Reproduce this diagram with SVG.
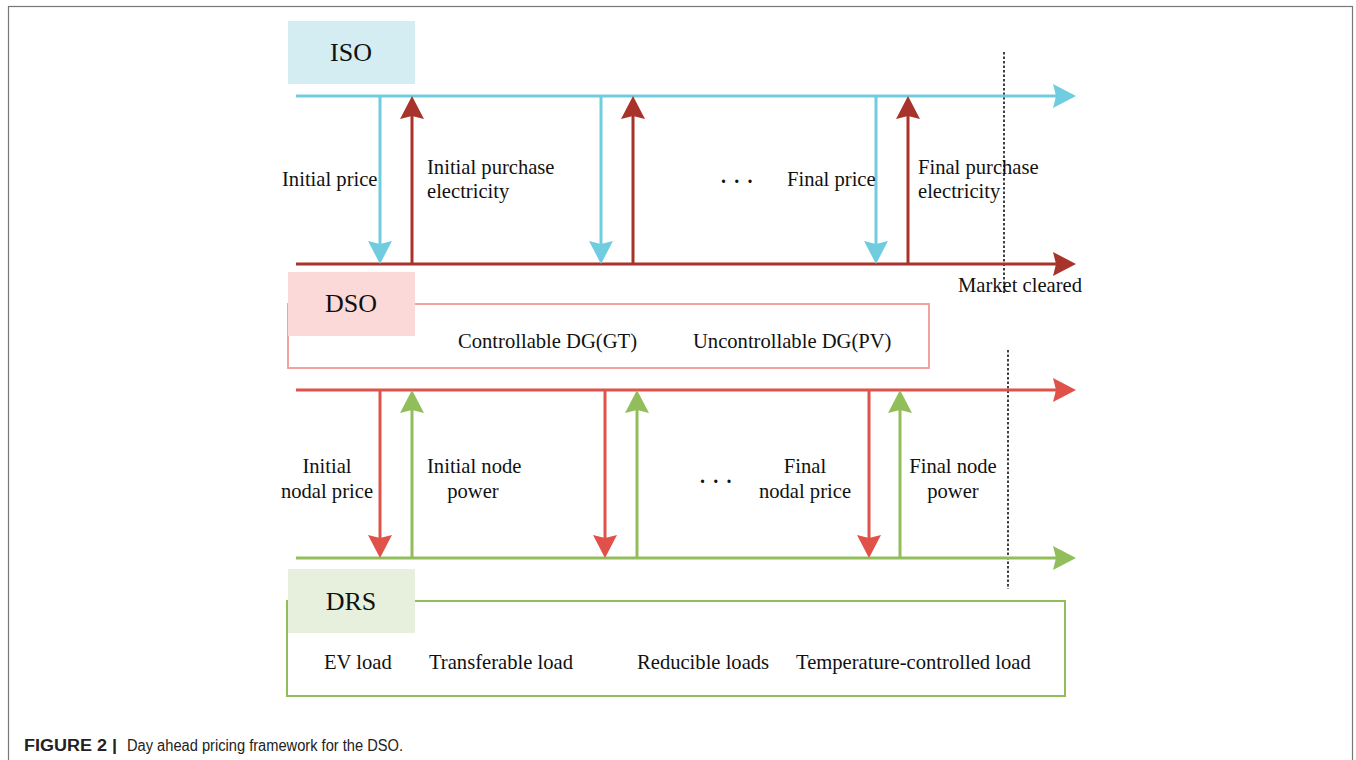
<svg xmlns="http://www.w3.org/2000/svg" width="1356" height="760" viewBox="0 0 1356 760">
<style>
.t{font-family:"Liberation Serif","Times New Roman",serif;font-size:20.6px;fill:#111}
.big{font-family:"Liberation Serif","Times New Roman",serif;font-size:26px;fill:#111}
.c{text-anchor:middle}
.ln{fill:none;stroke-width:3}
.cy{stroke:#70cddf}.dr{stroke:#a8332b}.rd{stroke:#e0514a}.gr{stroke:#91be5b}
.dot{stroke:#111;stroke-width:1.6;stroke-dasharray:2.5 2;fill:none}
.dots{font-family:"Liberation Serif","Times New Roman",serif;font-size:20px;font-weight:bold;fill:#111}
.cap{font-family:"Liberation Sans",Arial,sans-serif;font-size:16px;fill:#222}
</style>
<defs>
<marker id="aCy" markerUnits="userSpaceOnUse" markerWidth="24" markerHeight="24" refX="13" refY="12" orient="auto" viewBox="0 0 24 24"><path d="M0,0 L23,12 L0,24 L3,12 Z" fill="#70cddf"/></marker>
<marker id="aDr" markerUnits="userSpaceOnUse" markerWidth="24" markerHeight="24" refX="13" refY="12" orient="auto" viewBox="0 0 24 24"><path d="M0,0 L23,12 L0,24 L3,12 Z" fill="#a8332b"/></marker>
<marker id="aRd" markerUnits="userSpaceOnUse" markerWidth="24" markerHeight="24" refX="13" refY="12" orient="auto" viewBox="0 0 24 24"><path d="M0,0 L23,12 L0,24 L3,12 Z" fill="#e0514a"/></marker>
<marker id="aGr" markerUnits="userSpaceOnUse" markerWidth="24" markerHeight="24" refX="13" refY="12" orient="auto" viewBox="0 0 24 24"><path d="M0,0 L23,12 L0,24 L3,12 Z" fill="#91be5b"/></marker>
</defs>
<rect x="0" y="0" width="1356" height="760" fill="#fff"/>
<rect x="8.5" y="6.5" width="1344" height="800" fill="none" stroke="#777" stroke-width="1.2"/>

<g id="DSO-outline"><rect x="288" y="304" width="641" height="64" fill="#fff" stroke="#f1a39f" stroke-width="2"/></g>
<g id="DRS-outline"><rect x="287" y="601" width="778" height="95" fill="#fff" stroke="#91be5b" stroke-width="2"/></g>

<g id="ISO"><rect x="288" y="21" width="127" height="63" fill="#d3edf2"/><text class="big c" x="351" y="61">ISO</text></g>
<g id="DSO"><rect x="288" y="272" width="127" height="64" fill="#fbd9d8"/><text class="big c" x="351" y="312">DSO</text></g>
<g id="DRS"><rect x="288" y="569" width="127" height="64" fill="#e6f0dd"/><text class="big c" x="351" y="610">DRS</text></g>

<g id="connectors">
<line class="dot" x1="1004" y1="52" x2="1004" y2="294"/>
<line class="dot" x1="1008" y1="350" x2="1008" y2="589"/>
<line class="ln cy" x1="296" y1="96" x2="1066" y2="96" marker-end="url(#aCy)"/>
<line class="ln dr" x1="296" y1="264" x2="1066" y2="264" marker-end="url(#aDr)"/>
<line class="ln cy" x1="380" y1="96" x2="380" y2="254" marker-end="url(#aCy)"/>
<line class="ln cy" x1="601" y1="96" x2="601" y2="254" marker-end="url(#aCy)"/>
<line class="ln cy" x1="876" y1="96" x2="876" y2="254" marker-end="url(#aCy)"/>
<line class="ln dr" x1="412" y1="264" x2="412" y2="106" marker-end="url(#aDr)"/>
<line class="ln dr" x1="633" y1="264" x2="633" y2="106" marker-end="url(#aDr)"/>
<line class="ln dr" x1="908" y1="264" x2="908" y2="106" marker-end="url(#aDr)"/>
<line class="ln rd" x1="296" y1="390" x2="1066" y2="390" marker-end="url(#aRd)"/>
<line class="ln gr" x1="296" y1="558" x2="1066" y2="558" marker-end="url(#aGr)"/>
<line class="ln rd" x1="380" y1="390" x2="380" y2="548" marker-end="url(#aRd)"/>
<line class="ln rd" x1="605" y1="390" x2="605" y2="548" marker-end="url(#aRd)"/>
<line class="ln rd" x1="869" y1="390" x2="869" y2="548" marker-end="url(#aRd)"/>
<line class="ln gr" x1="412" y1="558" x2="412" y2="400" marker-end="url(#aGr)"/>
<line class="ln gr" x1="637" y1="558" x2="637" y2="400" marker-end="url(#aGr)"/>
<line class="ln gr" x1="900" y1="558" x2="900" y2="400" marker-end="url(#aGr)"/>
</g>

<g id="labels">
<text class="t" x="282" y="186">Initial price</text>
<text class="t" x="427" y="174">Initial purchase</text>
<text class="t" x="427" y="198">electricity</text>
<text class="dots" x="721" y="183" style="letter-spacing:1.6px">. . .</text>
<text class="t" x="787" y="186">Final price</text>
<text class="t" x="918" y="174">Final purchase</text>
<text class="t" x="918" y="198">electricity</text>
<text class="t" x="958" y="292">Market cleared</text>
<text class="t" x="458" y="348">Controllable DG(GT)</text>
<text class="t" x="693" y="348">Uncontrollable DG(PV)</text>
<text class="t c" x="327" y="473">Initial</text>
<text class="t c" x="327" y="498">nodal price</text>
<text class="t" x="427" y="473">Initial node</text>
<text class="t c" x="473" y="498">power</text>
<text class="dots" x="700" y="483" style="letter-spacing:1.6px">. . .</text>
<text class="t c" x="805" y="473">Final</text>
<text class="t c" x="805" y="498">nodal price</text>
<text class="t c" x="953" y="473">Final node</text>
<text class="t c" x="953" y="498">power</text>
<text class="t" x="324" y="669">EV load</text>
<text class="t" x="429" y="669">Transferable load</text>
<text class="t" x="637" y="669">Reducible loads</text>
<text class="t" x="796" y="669">Temperature-controlled load</text>
</g>
<g id="caption">
<text class="cap" x="24" y="751" font-weight="bold" font-size="17" textLength="93" lengthAdjust="spacingAndGlyphs">FIGURE 2 |</text>
<text class="cap" x="127" y="751" textLength="276" lengthAdjust="spacingAndGlyphs">Day ahead pricing framework for the DSO.</text>
</g>
</svg>
